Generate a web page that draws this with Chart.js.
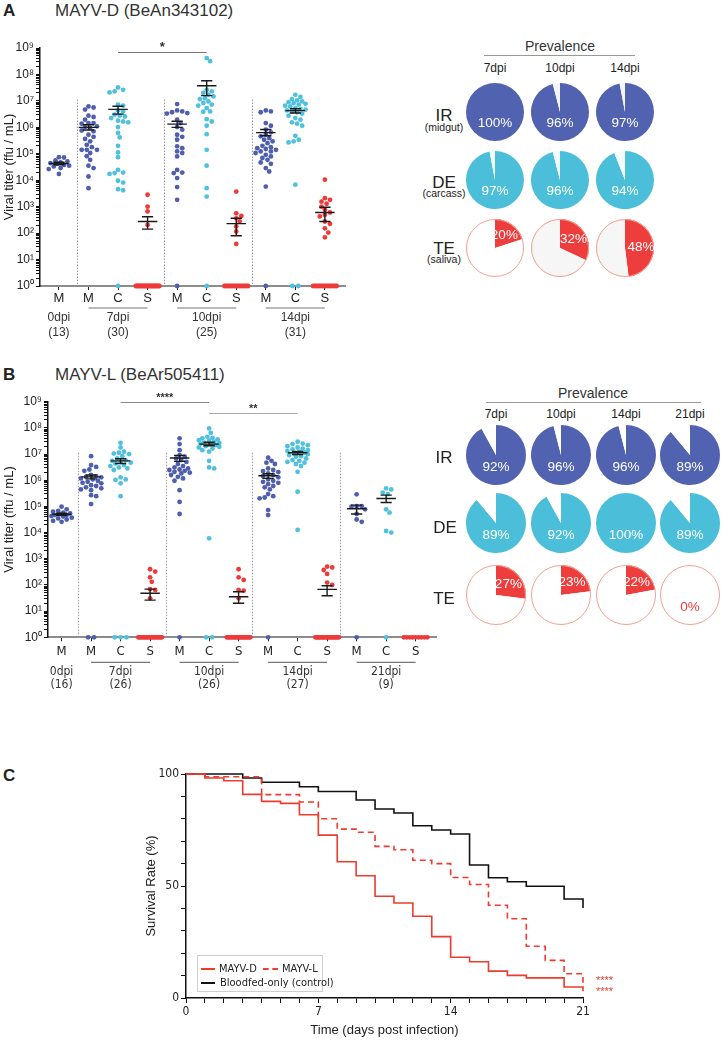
<!DOCTYPE html>
<html><head><meta charset="utf-8">
<script src="https://cdn.jsdelivr.net/npm/chart.js@4.4.1/dist/chart.umd.min.js"></script>
<style>
html,body{margin:0;padding:0;background:#fff;}
body{width:724px;height:1040px;position:relative;overflow:hidden;font-family:"Liberation Sans",Arial,Helvetica,sans-serif;color:#222;}
canvas{position:absolute;}
.t{position:absolute;white-space:nowrap;transform:translate(-50%,-50%);line-height:1;}
.l{position:absolute;white-space:nowrap;line-height:1;}
.hl{position:absolute;height:0;border-top:1px solid #888;}
.nar{font-family:"Liberation Sans Narrow","DejaVu Sans Condensed","Liberation Sans",Arial,sans-serif;}
</style></head><body>
<div class="l" style="left:3px;top:2px;font-size:17px;font-weight:bold;">A</div>
<div class="l" style="left:55px;top:2px;font-size:17px;color:#333;">MAYV-D (BeAn343102)</div>
<div class="l" style="left:3px;top:366px;font-size:17px;font-weight:bold;">B</div>
<div class="l" style="left:55px;top:366px;font-size:17px;color:#333;">MAYV-L (BeAr505411)</div>
<div class="l" style="left:3px;top:767px;font-size:17px;font-weight:bold;">C</div>

<canvas id="scA" width="360" height="345" style="left:0;top:0"></canvas>
<canvas id="scB" width="450" height="345" style="left:0;top:350px"></canvas>
<canvas id="kmC" width="724" height="280" style="left:0;top:760px"></canvas>

<!-- pie headers A -->
<div class="t" style="left:560px;top:46px;font-size:14px;color:#333;">Prevalence</div>
<div class="hl" style="left:484px;top:55px;width:151px;border-color:#999;"></div>
<div class="t" style="left:444px;top:115px;font-size:17px;">IR</div>
<div class="t" style="left:444px;top:127px;font-size:10.5px;">(midgut)</div>
<div class="t" style="left:444px;top:182px;font-size:17px;">DE</div>
<div class="t" style="left:444px;top:193px;font-size:10.5px;">(carcass)</div>
<div class="t" style="left:444px;top:248px;font-size:17px;">TE</div>
<div class="t" style="left:444px;top:259px;font-size:10.5px;">(saliva)</div>
<!-- pie headers B -->
<div class="t" style="left:593px;top:393px;font-size:14px;color:#333;">Prevalence</div>
<div class="hl" style="left:486px;top:402px;width:215px;border-color:#999;"></div>
<div class="t" style="left:444px;top:457px;font-size:17px;">IR</div>
<div class="t" style="left:445px;top:527px;font-size:17px;">DE</div>
<div class="t" style="left:444px;top:598px;font-size:17px;">TE</div>

<!-- legend C -->
<div style="position:absolute;left:197px;top:955px;width:124px;height:35px;border:1px solid #cfcfcf;background:#fff;"></div>
<div class="hl" style="left:201px;top:968px;width:14px;border-top:2px solid #ef3a2e;"></div>
<div class="l nar" style="left:219px;top:963px;font-size:11px;">MAYV-D</div>
<div class="hl" style="left:263px;top:968px;width:15px;border-top:2px dashed #ef3a2e;"></div>
<div class="l nar" style="left:282px;top:963px;font-size:11px;">MAYV-L</div>
<div class="hl" style="left:201px;top:982px;width:14px;border-top:2px solid #111;"></div>
<div class="l nar" style="left:220px;top:977px;font-size:11px;">Bloodfed-only (control)</div>
<div class="l" style="left:596px;top:975px;font-size:11px;color:#ef3a2e;">****</div>
<div class="l" style="left:596px;top:986px;font-size:11px;color:#ef3a2e;">****</div>

<script>
// ---------------- DATA ----------------
// Panel A (MAYV-D): categories, log10 titers of positive samples, count of zero-titer samples
const catsA   = ['M','M','C','S','M','C','S','M','C','S'];
const logA_M0 = [4.87,4.86,4.75,4.71,4.67,4.65,4.62,4.58,4.55,4.52,4.46,4.42,4.24];
const logA_M7 = [6.79,6.75,6.67,6.44,6.39,6.29,6.16,6.16,6.14,6.04,6.01,5.98,5.88,5.85,5.72,5.64,5.56,5.47,5.34,5.25,5.15,5.15,5.15,5.03,4.91,4.77,4.55,4.46,4.14,3.70];
const logA_C7 = [7.51,7.42,7.36,7.32,6.86,6.82,6.64,6.60,6.48,6.44,6.41,6.35,6.25,6.22,6.19,6.01,5.79,5.62,5.30,5.05,4.87,4.39,4.29,4.27,4.24,3.98,3.91,3.66,3.62];
const logA_S7 = [3.45,3.00,2.82,2.31];
const logA_M10 = [6.88,6.64,6.60,6.57,6.54,6.52,6.29,6.16,6.01,5.91,5.72,5.64,5.53,5.28,5.21,5.09,5.03,4.90,4.39,4.29,4.27,4.08,3.74,3.26];
const logA_C10 = [8.62,8.50,7.42,7.36,7.30,7.24,7.17,7.10,7.07,6.98,6.92,6.86,6.82,6.73,6.60,6.59,6.31,6.22,6.06,5.74,5.15,4.55,3.70,3.38];
const logA_S10 = [3.57,2.75,2.65,2.56,2.44,2.25,2.06,1.59];
const logA_M14 = [6.64,6.60,6.57,6.16,6.06,5.91,5.81,5.72,5.66,5.59,5.53,5.47,5.40,5.30,5.25,5.21,5.18,5.15,5.09,5.09,5.03,4.96,4.90,4.84,4.77,4.67,4.62,4.46,4.33,3.76];
const logA_C14 = [7.23,7.15,7.07,7.02,6.98,6.95,6.92,6.89,6.86,6.82,6.79,6.73,6.69,6.67,6.64,6.60,6.57,6.52,6.44,6.35,6.29,6.19,6.14,6.06,5.68,5.53,5.47,5.43,3.83];
const logA_S14 = [4.02,3.32,3.26,3.19,3.11,3.00,2.88,2.78,2.69,2.63,2.44,2.35,2.18,2.02,1.84];
const zerosA  = [0,0,1,26,1,1,17,1,2,16];
const meanA   = [4.63,6.00,6.68,2.44,6.12,7.57,2.36,5.80,6.63,2.78];
const semHiA  = [4.68,6.10,6.80,2.62,6.23,7.76,2.56,5.92,6.70,2.98];
const semLoA  = [4.58,5.90,6.50,2.15,6.00,7.20,1.90,5.68,6.54,2.44];
const groupLabA = ['0dpi','7dpi','10dpi','14dpi'];
const groupNA   = ['(13)','(30)','(25)','(31)'];
const groupStartA = [0,1,4,7];
const groupEndA   = [0,3,6,9];
const sigA = [{from:2,to:5,log:8.86,text:'*'}];

// Panel B (MAYV-L)
const catsB   = ['M','M','C','S','M','C','S','M','C','S','M','C','S'];
const logB_M0 = [4.99,4.89,4.83,4.80,4.76,4.73,4.71,4.67,4.67,4.63,4.61,4.57,4.54,4.50,4.45,4.41];
const logB_M7 = [6.92,6.58,6.51,6.41,6.36,6.20,6.16,6.13,6.11,6.07,6.03,5.98,5.94,5.90,5.88,5.81,5.78,5.73,5.69,5.65,5.62,5.43,5.39,5.09];
const logB_C7 = [7.43,7.25,7.09,7.05,7.02,7.00,6.92,6.83,6.76,6.74,6.70,6.67,6.64,6.58,6.54,6.49,6.45,6.39,6.11,6.03,6.01,5.88,5.39];
const logB_S7 = [2.60,2.51,2.29,2.12,1.84,1.81,1.49];
const logB_M10 = [7.60,7.38,7.15,6.96,6.90,6.83,6.77,6.70,6.62,6.54,6.49,6.45,6.41,6.39,6.36,6.32,6.29,6.26,6.20,6.13,6.07,5.98,5.62,5.17,4.71];
const logB_C10 = [7.98,7.81,7.66,7.62,7.60,7.56,7.53,7.51,7.47,7.44,7.43,7.40,7.38,7.34,7.30,7.28,7.25,7.21,7.15,7.09,6.74,6.49,6.45,3.78];
const logB_S10 = [2.60,2.29,2.19,1.81,1.78,1.49];
const logB_M14 = [6.86,6.74,6.67,6.62,6.45,6.39,6.35,6.31,6.26,6.20,6.16,6.11,6.03,5.98,5.94,5.90,5.85,5.78,5.73,5.65,5.47,5.39,5.34,5.31,4.86,4.67];
const logB_C14 = [7.47,7.40,7.38,7.34,7.30,7.25,7.21,7.18,7.15,7.12,7.09,7.05,7.02,7.00,6.96,6.92,6.90,6.83,6.77,6.74,6.70,6.67,6.62,6.54,6.32,5.56,4.10];
const logB_S14 = [2.70,2.67,2.57,2.42,2.09,2.00];
const logB_M21 = [5.46,5.01,5.01,4.99,4.89,4.71,4.50,4.41];
const logB_C21 = [5.69,5.65,5.53,5.47,4.89,4.76,4.06,4.00];
const logB_S21 = [];
const zerosB  = [0,2,3,19,1,2,20,1,0,21,1,1,9];
const meanB   = [4.70,6.13,6.74,1.68,6.85,7.38,1.55,6.17,7.05,1.83,4.91,5.30,null];
const semHiB  = [4.74,6.20,6.82,1.84,6.95,7.45,1.74,6.25,7.10,1.97,5.05,5.43,null];
const semLoB  = [4.66,6.05,6.64,1.42,6.72,7.32,1.30,6.07,6.98,1.59,4.71,5.15,null];
const groupLabB = ['0dpi','7dpi','10dpi','14dpi','21dpi'];
const groupNB   = ['(16)','(26)','(26)','(27)','(9)'];
const groupStartB = [0,1,4,7,10];
const groupEndB   = [0,3,6,9,12];
const sigB = [{from:2,to:5,log:9.0,text:'****'},{from:5,to:8,log:8.57,text:'**'}];

// Prevalence (%)
const prevDaysA = ['7dpi','10dpi','14dpi'];
const prevIR_A = [100,96,97];
const prevDE_A = [97,96,94];
const prevTE_A = [20,32,48];
const prevDaysB = ['7dpi','10dpi','14dpi','21dpi'];
const prevIR_B = [92,96,96,89];
const prevDE_B = [89,92,100,89];
const prevTE_B = [27,23,22,0];

// Panel C survival (%), value from each day onward
const survDays = [0,1,2,3,4,5,6,7,8,9,10,11,12,13,14,15,16,17,18,19,20,21];
const survD    = [100,98.2,97.0,90.9,87.8,86.9,81.8,72.7,60.8,54.6,45.4,42.4,36.5,27.4,18.2,16.2,12.0,10.1,9.0,9.0,4.9,3.0];
const survL    = [100,98.8,98.8,98.8,90.8,90.8,87.5,80.0,75.4,74.0,67.7,66.2,61.5,60.0,53.8,50.7,41.4,35.4,23.1,16.8,10.8,6.8];
const survCtrl = [100,100,100,98.2,96.3,96.3,94.3,92.2,92.2,88.4,84.4,82.6,76.9,75.0,73.2,59.4,53.7,51.9,49.9,49.9,44.2,40.2];

// ---------------- DRAWING ----------------
Chart.defaults.font.family = '"Liberation Sans", Arial, sans-serif';
Chart.defaults.color = '#222';
const NARROW = '"Liberation Sans Narrow","DejaVu Sans Condensed","Liberation Sans",Arial,sans-serif';
const SUP = ['\u2070','\u00b9','\u00b2','\u00b3','\u2074','\u2075','\u2076','\u2077','\u2078','\u2079'];
const TCOL = {M:'#4f5fae', C:'#4fc0dd', S:'#ef3a3a'};

function swarmOffsets(logs, pxX, pxY, capPx) {
  const d = 4.6, placed = [], offs = new Array(logs.length).fill(0);
  const idx = logs.map((v,i)=>i).sort((a,b)=>logs[b]-logs[a]);
  const cands = [0]; for (let k=1;k<=14;k++){ cands.push(k*1.7, -k*1.7); }
  for (const i of idx) {
    const y = logs[i]*pxY;
    let chosen = null, best = -1, bestC = 0;
    for (const c of cands) {
      if (Math.abs(c) > capPx) continue;
      let minD = Infinity;
      for (const p of placed) { const dd = Math.hypot(p.x-c, p.y-y); if (dd < minD) minD = dd; }
      if (minD >= d) { chosen = c; break; }
      if (minD > best) { best = minD; bestC = c; }
    }
    if (chosen === null) chosen = bestC;
    placed.push({x:chosen, y});
    offs[i] = chosen/pxX;
  }
  return offs;
}
function zeroOffsets(n) {
  if (n <= 0) return [];
  if (n === 1) return [0];
  const s = Math.min(0.4, (n-1)*0.1);
  return Array.from({length:n}, (_,i)=> -s + 2*s*i/(n-1));
}

const errPlugin = {
  id:'err',
  afterDatasetsDraw(chart, args, o) {
    const {ctx} = chart, x = chart.scales.x, y = chart.scales.y;
    ctx.save(); ctx.strokeStyle = '#1a1a1a'; ctx.lineWidth = 1.4;
    o.mean.forEach((m,i)=>{
      if (m == null) return;
      const cx = x.getPixelForValue(i);
      const ym = y.getPixelForValue(Math.pow(10,m));
      const yh = y.getPixelForValue(Math.pow(10,o.hi[i]));
      const yl = y.getPixelForValue(Math.pow(10,o.lo[i]));
      const hw = x.getPixelForValue(i+0.33)-cx, cw = x.getPixelForValue(i+0.19)-cx;
      ctx.beginPath();
      ctx.moveTo(cx-hw, ym); ctx.lineTo(cx+hw, ym);
      ctx.moveTo(cx, yh); ctx.lineTo(cx, yl);
      ctx.moveTo(cx-cw, yh); ctx.lineTo(cx+cw, yh);
      ctx.moveTo(cx-cw, yl); ctx.lineTo(cx+cw, yl);
      ctx.stroke();
    });
    ctx.restore();
  }
};

const decoPlugin = {
  id:'deco',
  beforeDatasetsDraw(chart, args, o) {
    const {ctx} = chart, x = chart.scales.x, y = chart.scales.y;
    ctx.save(); ctx.strokeStyle = '#9a9a9a'; ctx.lineWidth = 1; ctx.setLineDash([1.5,1.5]);
    o.seps.forEach(s=>{
      const px = Math.round(x.getPixelForValue(s))+0.5;
      ctx.beginPath(); ctx.moveTo(px, y.getPixelForValue(Math.pow(10,o.sepTop))); ctx.lineTo(px, chart.chartArea.bottom); ctx.stroke();
    });
    ctx.restore();
  },
  afterDraw(chart, args, o) {
    const {ctx} = chart, x = chart.scales.x, y = chart.scales.y, b = chart.chartArea.bottom;
    ctx.save();
    o.sig.forEach((s,k)=>{
      const py = Math.round(y.getPixelForValue(Math.pow(10,s.log)))+0.5;
      ctx.strokeStyle = o.sigColors[k]; ctx.lineWidth = 1;
      ctx.beginPath(); ctx.moveTo(x.getPixelForValue(s.from), py); ctx.lineTo(x.getPixelForValue(s.to), py); ctx.stroke();
      ctx.fillStyle = '#333'; ctx.font = o.sigFont; ctx.textAlign = 'center'; ctx.textBaseline = 'alphabetic';
      ctx.fillText(s.text, (x.getPixelForValue(s.from)+x.getPixelForValue(s.to))/2, py - 2);
    });
    ctx.fillStyle = '#333'; ctx.textAlign = 'center'; ctx.textBaseline = 'middle'; ctx.font = o.grpFont;
    o.labels.forEach((lab,g)=>{
      const x1 = x.getPixelForValue(o.start[g]), x2 = x.getPixelForValue(o.end[g]);
      if (o.end[g] > o.start[g]) {
        ctx.strokeStyle = '#777'; ctx.lineWidth = 1.2;
        ctx.beginPath(); ctx.moveTo(x1, b+o.ulY); ctx.lineTo(x2, b+o.ulY); ctx.stroke();
      }
      ctx.fillText(lab, (x1+x2)/2, b+o.labY);
      ctx.fillText(o.counts[g], (x1+x2)/2, b+o.cntY);
    });
    ctx.restore();
  }
};

function buildScatter(id, P) {
  const datasets = P.logs.map((arr,i)=>{
    const offs = swarmOffsets(arr, P.pxX, P.pxY, 11);
    const pts = arr.map((v,j)=>({x:i+offs[j], y:Math.pow(10,v)}));
    zeroOffsets(P.zeros[i]).forEach(o=>pts.push({x:i+o, y:1}));
    return {data:pts, backgroundColor:TCOL[P.cats[i]], pointRadius:2.4, pointHoverRadius:2.4, pointBorderWidth:0, borderWidth:0, clip:false};
  });
  new Chart(document.getElementById(id), {
    type:'scatter',
    data:{datasets},
    options:{
      responsive:false, animation:false, events:[],
      layout:{padding:{top:P.padTop, right:P.padRight, left:0, bottom:0}},
      plugins:{legend:{display:false}, tooltip:{enabled:false},
        err:{mean:P.mean, hi:P.hi, lo:P.lo},
        deco:P.deco},
      scales:{
        x:{type:'linear', min:P.xmin, max:P.xmax,
          afterBuildTicks:s=>{ s.ticks = P.cats.map((c,i)=>({value:i})); },
          ticks:{autoSkip:false, maxRotation:0, padding:P.tickPad, color:'#222', font:{size:13, family:P.xFont},
                 callback:(v)=>P.cats[v]},
          grid:{drawOnChartArea:false, drawTicks:true, tickLength:4, color:'#222', lineWidth:1},
          border:{color:'#8c8c8c', width:2},
          afterFit:s=>{ s.height = P.xH; }
        },
        y:{type:'logarithmic', min:1, max:1e9,
          afterBuildTicks:s=>{ const t=[]; for(let e=0;e<=9;e++){ for(let m=1;m<=9;m++){ const v=m*Math.pow(10,e); if (v<=1e9) t.push({value:v}); } } s.ticks=t; },
          ticks:{autoSkip:false, padding:2, font:{size:12}, color:'#222',
                 callback:(v)=>{ const e=Math.round(Math.log10(v)); return Math.abs(v-Math.pow(10,e)) < 1e-6*v ? '10'+SUP[e] : ''; }},
          grid:{drawOnChartArea:false, drawTicks:true, tickLength:4, color:'#111', lineWidth:1},
          border:{color:'#111', width:1.5},
          title:{display:true, text:'Viral titer (ffu / mL)', font:{size:13}, color:'#222', padding:{top:2,bottom:0}},
          afterFit:s=>{ s.width = P.yW; }
        }
      }
    },
    plugins:[decoPlugin, errPlugin]
  });
}

buildScatter('scA', {
  cats:catsA,
  logs:[logA_M0,logA_M7,logA_C7,logA_S7,logA_M10,logA_C10,logA_S10,logA_M14,logA_C14,logA_S14],
  zeros:zerosA, mean:meanA, hi:semHiA, lo:semLoA,
  xmin:-0.64, xmax:9.68, pxX:29.55, pxY:26.4,
  padTop:48, padRight:15, xH:59, yW:40, tickPad:1, xFont:'"Liberation Sans", Arial, sans-serif',
  deco:{seps:[0.6,3.55,6.55], sepTop:7.05, sig:sigA, sigColors:['#777'], sigFont:'bold 13px "Liberation Sans", Arial',
        labels:groupLabA, counts:groupNA, start:groupStartA, end:groupEndA, ulY:22, labY:32, cntY:47,
        grpFont:'12px "Liberation Sans", Arial, sans-serif'}
});
buildScatter('scB', {
  cats:catsB,
  logs:[logB_M0,logB_M7,logB_C7,logB_S7,logB_M10,logB_C10,logB_S10,logB_M14,logB_C14,logB_S14,logB_M21,logB_C21,logB_S21],
  zeros:zerosB, mean:meanB, hi:semHiB, lo:semLoB,
  xmin:-0.46, xmax:12.69, pxX:29.5, pxY:26.2,
  padTop:51.7, padRight:14, xH:57.7, yW:48, tickPad:3, xFont:NARROW,
  deco:{seps:[0.54,3.53,6.45,9.45], sepTop:7.05, sig:sigB, sigColors:['#888','#aaa'], sigFont:'bold 11px "Liberation Sans", Arial',
        labels:groupLabB, counts:groupNB, start:groupStartB, end:groupEndB, ulY:25, labY:35, cntY:48,
        grpFont:'12px ' + NARROW}
});

// ---------------- PIES ----------------
const pieLabelPlugin = {
  id:'pielab',
  afterDraw(chart, args, o) {
    const arc = chart.getDatasetMeta(0).data[0];
    const {ctx} = chart; const r = arc.outerRadius;
    ctx.save();
    if (o.outline) {
      ctx.strokeStyle = o.outline; ctx.lineWidth = 1;
      ctx.beginPath(); ctx.arc(arc.x, arc.y, r-0.5, 0, Math.PI*2); ctx.stroke();
    }
    ctx.font = '13.5px "Liberation Sans", Arial, sans-serif';
    ctx.textAlign = 'center'; ctx.textBaseline = 'middle';
    let lx = arc.x, ly = arc.y + 0.4*r, col = '#fff';
    if (o.kind === 'TE') {
      if (o.pct > 0) {
        const mid = (arc.startAngle + arc.endAngle)/2;
        lx = arc.x + 0.55*r*Math.cos(mid); ly = arc.y + 0.55*r*Math.sin(mid);
      } else { col = '#ef3a3a'; }
    }
    ctx.fillStyle = col; ctx.fillText(o.pct + '%', lx, ly);
    ctx.restore();
  }
};
function makePie(cx, cy, r, pct, color, rest, kind, outline) {
  const c = document.createElement('canvas');
  const size = 2*r + 2;
  c.width = size; c.height = size;
  c.style.left = (cx - size/2) + 'px'; c.style.top = (cy - size/2) + 'px';
  document.body.appendChild(c);
  new Chart(c, {
    type:'pie',
    data:{labels:['positive','negative'], datasets:[{data:[pct, 100-pct], backgroundColor:[color, rest], borderWidth:0}]},
    options:{responsive:false, animation:false, events:[], layout:{padding:1},
      plugins:{legend:{display:false}, tooltip:{enabled:false}, pielab:{pct, kind, outline}}},
    plugins:[pieLabelPlugin]
  });
}
const pieXA = [495, 560, 625], pieYA = [112, 180, 248];
prevDaysA.forEach((d,i)=>{
  const lab = document.createElement('div'); lab.className='t'; lab.style.left=pieXA[i]+'px'; lab.style.top='68px'; lab.style.fontSize='12px'; lab.textContent=d; document.body.appendChild(lab);
  makePie(pieXA[i], pieYA[0], 29, prevIR_A[i], '#5062b0', '#f4f5fb', 'IR', null);
  makePie(pieXA[i], pieYA[1], 29, prevDE_A[i], '#4bbfd9', '#f3fbfd', 'DE', null);
  makePie(pieXA[i], pieYA[2], 29, prevTE_A[i], '#ee3d3d', i===0 ? '#ffffff' : '#f6f6f6', 'TE', '#f3a090');
});
const pieXB = [496, 561, 626, 690], pieYB = [455, 523, 595];
prevDaysB.forEach((d,i)=>{
  const lab = document.createElement('div'); lab.className='t'; lab.style.left=pieXB[i]+'px'; lab.style.top='414px'; lab.style.fontSize='12px'; lab.textContent=d; document.body.appendChild(lab);
  makePie(pieXB[i], pieYB[0], 30, prevIR_B[i], '#5062b0', '#ffffff', 'IR', null);
  makePie(pieXB[i], pieYB[1], 30, prevDE_B[i], '#4bbfd9', '#ffffff', 'DE', null);
  makePie(pieXB[i], pieYB[2], 30, prevTE_B[i], '#ee3d3d', '#ffffff', 'TE', '#f3a090');
});

// ---------------- PANEL C ----------------
new Chart(document.getElementById('kmC'), {
  type:'line',
  data:{datasets:[
    {label:'MAYV-D', data:survDays.map((d,i)=>({x:d,y:survD[i]})), borderColor:'#ef3a2e', borderWidth:1.6, stepped:'before', pointRadius:0, fill:false, clip:4},
    {label:'MAYV-L', data:survDays.map((d,i)=>({x:d,y:survL[i]})), borderColor:'#ef3a2e', borderWidth:1.6, borderDash:[6,4], stepped:'before', pointRadius:0, fill:false, clip:4},
    {label:'Bloodfed-only (control)', data:survDays.map((d,i)=>({x:d,y:survCtrl[i]})), borderColor:'#111', borderWidth:1.6, stepped:'before', pointRadius:0, fill:false, clip:4}
  ]},
  options:{
    responsive:false, animation:false, events:[],
    layout:{padding:{top:14, left:140, right:141, bottom:0}},
    plugins:{legend:{display:false}, tooltip:{enabled:false}},
    scales:{
      x:{type:'linear', min:0, max:21,
        afterBuildTicks:s=>{ s.ticks = survDays.map(d=>({value:d})); },
        ticks:{autoSkip:false, maxRotation:0, padding:2, font:{size:12, family:NARROW}, color:'#222', callback:v=> v%7===0 ? String(v) : ''},
        grid:{drawOnChartArea:false, drawTicks:true, tickLength:5, color:'#111'},
        border:{color:'#111', width:1.5},
        title:{display:true, text:'Time (days post infection)', font:{size:13}, color:'#222', padding:{top:0,bottom:2}},
        afterFit:s=>{ s.height = 42; }
      },
      y:{type:'linear', min:0, max:100,
        afterBuildTicks:s=>{ const t=[]; for(let v=0; v<=100; v+=10) t.push({value:v}); s.ticks=t; },
        ticks:{autoSkip:false, padding:2, font:{size:12, family:NARROW}, color:'#222', callback:v=> v%50===0 ? String(v) : ''},
        grid:{drawOnChartArea:false, drawTicks:true, tickLength:5, color:'#111'},
        border:{color:'#111', width:1.5},
        title:{display:true, text:'Survival Rate (%)', font:{size:13}, color:'#222', padding:{top:4,bottom:0}},
        afterFit:s=>{ s.width = 46; }
      }
    }
  }
});
</script>
</body></html>
